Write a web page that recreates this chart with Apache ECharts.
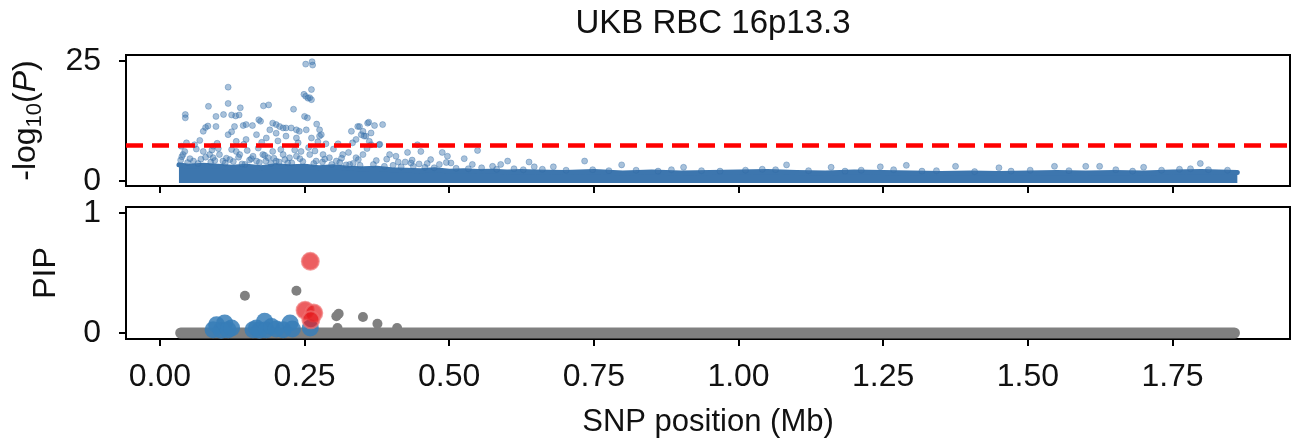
<!DOCTYPE html>
<html>
	<head>
		<meta charset="utf-8">
		<title></title>
		<script type="text/javascript" src="https://cdn.jsdelivr.net/npm/echarts@6/dist/echarts.min.js"></script>
		<style>
			html, body { margin: 0; padding: 0; background: #fff; }
			#chart { width: 1294px; height: 444px; }
		</style>
	</head>
	<body>
		<div id="chart"></div>
		<script type="text/javascript">
			var titleText = 'UKB RBC 16p13.3';
			var xTicks = [0, 0.25, 0.5, 0.75, 1.0, 1.25, 1.5, 1.75];
			var logpTicks = [0, 25];
			var pipTicks = [0, 1];
			var gwasLine = 7.3;

			// upper edge of the dense cloud of SNPs near 0 (Mb, -log10P)
			var bandX = [0.033, 0.05, 0.075, 0.1, 0.125, 0.15, 0.175, 0.2, 0.225, 0.25, 0.275, 0.3, 0.325, 0.35, 0.375, 0.4, 0.425, 0.45, 0.475, 0.5,
				0.525, 0.55, 0.575, 0.6, 0.625, 0.65, 0.7, 0.75, 0.8, 0.85, 0.9, 0.95, 1.0, 1.05, 1.1, 1.15, 1.2, 1.25, 1.3, 1.35,
				1.4, 1.45, 1.5, 1.55, 1.6, 1.65, 1.7, 1.75, 1.8, 1.83, 1.862];
			var bandTop = [3.3, 3.0, 3.2, 3.0, 2.8, 3.0, 2.7, 3.1, 2.9, 3.0, 2.7, 2.9, 2.6, 2.5, 2.6, 2.3, 2.2, 2.1, 2.3, 2.0,
				2.1, 1.9, 2.0, 1.8, 1.9, 1.8, 1.7, 1.9, 1.6, 1.8, 1.6, 1.7, 1.8, 1.9, 1.7, 1.6, 1.8, 1.7, 1.6, 1.5,
				1.6, 1.5, 1.6, 1.7, 1.6, 1.7, 1.6, 1.8, 1.9, 1.8, 1.7];

			// SNPs standing out of the cloud
			var snpX = [0.252, 0.263, 0.264, 0.262, 0.249, 0.252, 0.256, 0.259, 0.262, 0.250, 0.255,
				0.044, 0.044, 0.084, 0.097, 0.110, 0.118, 0.118, 0.124, 0.131, 0.137, 0.139, 0.179, 0.188, 0.231, 0.271, 0.359,
				0.075, 0.079, 0.083, 0.097, 0.118, 0.124, 0.129, 0.144, 0.149, 0.160, 0.171, 0.174, 0.190, 0.195, 0.201, 0.207,
				0.213, 0.218, 0.227, 0.236, 0.241, 0.253, 0.276, 0.279, 0.331, 0.342, 0.348, 0.356, 0.345, 0.351, 0.361, 0.365,
				0.371, 0.385,
				0.037, 0.060, 0.092, 0.132, 0.149, 0.167, 0.184, 0.201, 0.218, 0.236, 0.262, 0.276, 0.287, 0.339, 0.353, 0.365,
				0.379, 0.445,
				0.040, 0.043, 0.075, 0.086, 0.092, 0.103, 0.109, 0.121, 0.132, 0.138, 0.147, 0.161, 0.167, 0.178, 0.187, 0.195,
				0.201, 0.213, 0.221, 0.236, 0.244, 0.259, 0.270, 0.282, 0.293, 0.305, 0.316, 0.328, 0.339, 0.351,
				0.451, 0.428, 0.397, 0.408, 0.488, 0.497, 0.549, 0.526, 0.601, 0.589, 0.638, 0.647, 0.734, 0.424, 0.434, 0.448,
				0.468, 0.483, 0.503, 0.540, 0.575,
				0.798, 1.083, 1.245, 1.290, 1.375, 1.546, 1.600, 1.624, 1.798, 0.680, 0.905, 1.160, 1.450, 1.700,
				0.036, 0.048, 0.058, 0.066, 0.071, 0.088, 0.095, 0.113, 0.127, 0.142, 0.155, 0.172, 0.183, 0.192, 0.206, 0.216,
				0.228, 0.247, 0.266, 0.281, 0.297, 0.311, 0.322, 0.334, 0.346, 0.369, 0.388, 0.403, 0.417, 0.438, 0.458, 0.474,
				0.512, 0.533, 0.556, 0.582, 0.612, 0.628, 0.661, 0.702, 0.748, 0.776, 0.823, 0.861, 0.884, 0.936, 0.968, 1.012,
				1.041, 1.064, 1.121, 1.184, 1.212, 1.268, 1.317, 1.342, 1.408, 1.471, 1.504, 1.571, 1.652, 1.681, 1.731, 1.762,
				1.781, 1.812, 1.845,
				0.038, 0.052, 0.063, 0.079, 0.090, 0.101, 0.115, 0.124, 0.136, 0.151, 0.158, 0.170, 0.181, 0.197, 0.209, 0.224,
				0.233, 0.242, 0.257, 0.268, 0.285, 0.300, 0.314, 0.326, 0.343, 0.358, 0.374, 0.392, 0.412, 0.436, 0.462, 0.495,
				0.046, 0.069, 0.099, 0.145, 0.176, 0.204, 0.239, 0.273, 0.308, 0.333, 0.362, 0.380];
			var snpLogP = [24.3, 24.8, 24.1, 19.0, 18.0, 17.6, 17.2, 17.3, 16.9, 13.4, 13.1,
				13.8, 13.1, 15.5, 13.4, 13.8, 19.5, 16.1, 13.7, 13.5, 13.7, 15.2, 15.6, 15.8, 14.9, 11.8, 12.0,
				10.3, 11.1, 11.4, 11.3, 9.6, 10.2, 11.3, 11.5, 11.7, 11.5, 12.7, 12.4, 10.6, 12.0, 11.7, 11.3,
				11.0, 11.0, 11.0, 10.6, 10.3, 10.6, 10.6, 9.6, 10.3, 11.3, 9.6, 9.3, 11.3, 10.3, 12.2, 9.95,
				11.5, 11.7,
				7.2, 7.5, 7.2, 8.2, 8.6, 9.6, 8.9, 9.9, 9.3, 8.9, 8.9, 9.3, 7.7, 8.6, 9.3, 7.5,
				7.5, 7.5,
				5.45, 6.1, 6.1, 5.45, 4.8, 5.45, 4.1, 4.4, 6.1, 5.45, 3.4, 5.1, 4.1, 5.45, 4.8, 6.1,
				4.1, 5.45, 3.7, 5.1, 6.1, 5.45, 4.1, 5.45, 4.8, 4.1, 5.45, 3.4, 4.8, 5.45,
				6.1, 5.9, 5.45, 5.1, 5.9, 5.1, 6.3, 4.6, 4.1, 3.4, 3.9, 2.9, 4.1, 3.9, 3.7, 3.5,
				4.4, 3.4, 3.7, 3.4, 3.0,
				3.3, 3.3, 2.9, 3.2, 3.0, 3.0, 3.0, 3.0, 3.6, 2.9, 2.8, 2.8, 2.7, 2.8,
				4.3, 3.8, 4.1, 3.6, 4.5, 3.9, 4.2, 3.7, 4.0, 3.5, 4.3, 3.8, 4.1, 3.6, 3.9, 4.4,
				3.7, 4.0, 3.6, 3.9, 3.4, 3.8, 3.3, 3.6, 3.2, 3.4, 3.0, 3.2, 2.9, 3.0, 2.8, 2.7,
				2.6, 2.5, 2.7, 2.4, 2.5, 2.3, 2.4, 2.2, 2.3, 2.1, 2.2, 2.0, 2.3, 2.1, 2.0, 2.2,
				2.4, 2.3, 2.1, 2.0, 2.2, 2.3, 2.0, 2.1, 1.9, 2.0, 2.2, 2.1, 2.3, 2.0, 2.2, 2.4,
				2.5, 2.3, 2.2,
				5.0, 4.6, 6.6, 4.9, 6.4, 6.7, 4.7, 6.5, 4.9, 6.3, 4.6, 6.8, 5.3, 4.7, 6.5, 4.8,
				6.4, 4.6, 6.9, 6.2, 4.5, 6.6, 4.7, 5.9, 4.4, 6.7, 4.2, 4.5, 3.9, 4.3, 3.6, 3.8,
				7.9, 8.4, 7.8, 7.6, 8.0, 8.3, 7.9, 8.1, 7.7, 7.9, 8.2, 7.6];

			// fine-mapping PIP panel
			var pipSpan = [0.036, 1.857];
			var greyX = [0.147, 0.236, 0.305, 0.309, 0.351, 0.376, 0.410, 0.307];
			var greyPip = [0.311, 0.352, 0.139, 0.161, 0.133, 0.077, 0.041, 0.041];
			var blueX = [0.092, 0.098, 0.106, 0.112, 0.118, 0.124, 0.161, 0.167, 0.172, 0.181, 0.184, 0.193, 0.201, 0.213, 0.225, 0.229, 0.260];
			var bluePip = [0.028, 0.069, 0.022, 0.083, 0.028, 0.041, 0.028, 0.041, 0.022, 0.097, 0.028, 0.055, 0.033, 0.028, 0.083, 0.033, 0.041];
			var redX = [0.260, 0.251, 0.266, 0.261];
			var redPip = [0.597, 0.189, 0.166, 0.110];

			function pairs(xs, ys) {
				var out = [];
				for (var i = 0; i < xs.length; i++) {
					out.push([xs[i], ys[i]]);
				}
				return out;
			}

			var font = 'Liberation Sans, Arial, sans-serif';
			var xmin = -0.0585, xmax = 1.953;

			var myChart = echarts.init(document.getElementById('chart'), null, { renderer: 'canvas' });
			var tickStyle = { show: true, length: 7, lineStyle: { color: '#000', width: 2 } };
			var noLine = { show: false, onZero: false };

			var option = {
				animation: false,
				title: {
					text: titleText,
					left: 708,
					textAlign: 'center',
					top: 2,
					textStyle: { fontFamily: font, fontSize: 33, fontWeight: 'normal', color: '#111' }
				},
				grid: [
					{ left: 126, top: 55, width: 1164, height: 131, show: true, borderColor: '#000', borderWidth: 2, backgroundColor: 'transparent' },
					{ left: 126, top: 207, width: 1164, height: 132, show: true, borderColor: '#000', borderWidth: 2, backgroundColor: 'transparent' }
				],
				xAxis: [{
					type: 'value', gridIndex: 0, min: xmin, max: xmax,
					axisLine: noLine,
					axisTick: Object.assign({ customValues: xTicks }, tickStyle),
					axisLabel: { show: false },
					splitLine: { show: false }
				}, {
					type: 'value', gridIndex: 1, min: xmin, max: xmax,
					name: 'SNP position (Mb)',
					nameLocation: 'middle',
					nameGap: 68,
					nameTextStyle: { fontFamily: font, fontSize: 31, color: '#111' },
					axisLine: noLine,
					axisTick: Object.assign({ customValues: xTicks }, tickStyle),
					axisLabel: {
						customValues: xTicks,
						margin: 22,
						fontFamily: font, fontSize: 32, color: '#111',
						formatter: function(v) { return v.toFixed(2); }
					},
					splitLine: { show: false }
				}],
				yAxis: [{
					type: 'value', gridIndex: 0, min: -1.1, max: 26.2,
					name: '-log{s|10}({i|P})',
					nameLocation: 'middle',
					nameGap: 80,
					nameTextStyle: {
						fontFamily: font, fontSize: 32, color: '#111',
						rich: {
							s: { fontFamily: font, fontSize: 22, color: '#111', verticalAlign: 'bottom', lineHeight: 40 },
							i: { fontFamily: font, fontSize: 32, color: '#111', fontStyle: 'italic' }
						}
					},
					axisLine: noLine,
					axisTick: Object.assign({ customValues: logpTicks }, tickStyle),
					axisLabel: { customValues: logpTicks, margin: 25, fontFamily: font, fontSize: 32, color: '#111' },
					splitLine: { show: false }
				}, {
					type: 'value', gridIndex: 1, min: -0.05, max: 1.05,
					name: 'PIP',
					nameLocation: 'middle',
					nameGap: 64,
					nameTextStyle: { fontFamily: font, fontSize: 32, color: '#111' },
					axisLine: noLine,
					axisTick: Object.assign({ customValues: pipTicks }, tickStyle),
					axisLabel: { customValues: pipTicks, margin: 25, fontFamily: font, fontSize: 32, color: '#111' },
					splitLine: { show: false }
				}],
				series: [{
					// dense cloud
					type: 'line', xAxisIndex: 0, yAxisIndex: 0,
					data: pairs(bandX, bandTop),
					symbol: 'none',
					smooth: false,
					lineStyle: { color: '#3d76ae', width: 5, cap: 'round', join: 'round' },
					areaStyle: { color: '#3d76ae', opacity: 1, origin: -0.45 },
					z: 2
				}, {
					type: 'scatter', xAxisIndex: 0, yAxisIndex: 0,
					data: pairs(snpX, snpLogP),
					symbolSize: 6,
					itemStyle: { color: '#3d76ae', opacity: 0.45, borderColor: '#2f6aa5', borderWidth: 0.8 },
					markLine: {
						silent: true,
						symbol: 'none',
						label: { show: false },
						lineStyle: { color: '#ff0000', width: 4.5, type: [17, 9], opacity: 1 },
						data: [{ yAxis: gwasLine }]
					},
					z: 3
				}, {
					type: 'line', xAxisIndex: 1, yAxisIndex: 1,
					data: [[pipSpan[0], 0], [pipSpan[1], 0]],
					symbol: 'none',
					lineStyle: { color: '#808080', width: 11, cap: 'round' },
					z: 2
				}, {
					type: 'scatter', xAxisIndex: 1, yAxisIndex: 1,
					data: pairs(greyX, greyPip),
					symbolSize: 10,
					itemStyle: { color: '#808080', opacity: 1 },
					z: 3
				}, {
					type: 'scatter', xAxisIndex: 1, yAxisIndex: 1,
					data: pairs(blueX, bluePip),
					symbolSize: 17,
					itemStyle: { color: '#377eb8', opacity: 0.85 },
					z: 4
				}, {
					type: 'scatter', xAxisIndex: 1, yAxisIndex: 1,
					data: pairs(redX, redPip),
					symbolSize: 17,
					itemStyle: { color: '#e41a1c', opacity: 0.7, borderColor: '#f07070', borderWidth: 2 },
					z: 5
				}]
			};

			myChart.setOption(option);
		</script>
	</body>
</html>
